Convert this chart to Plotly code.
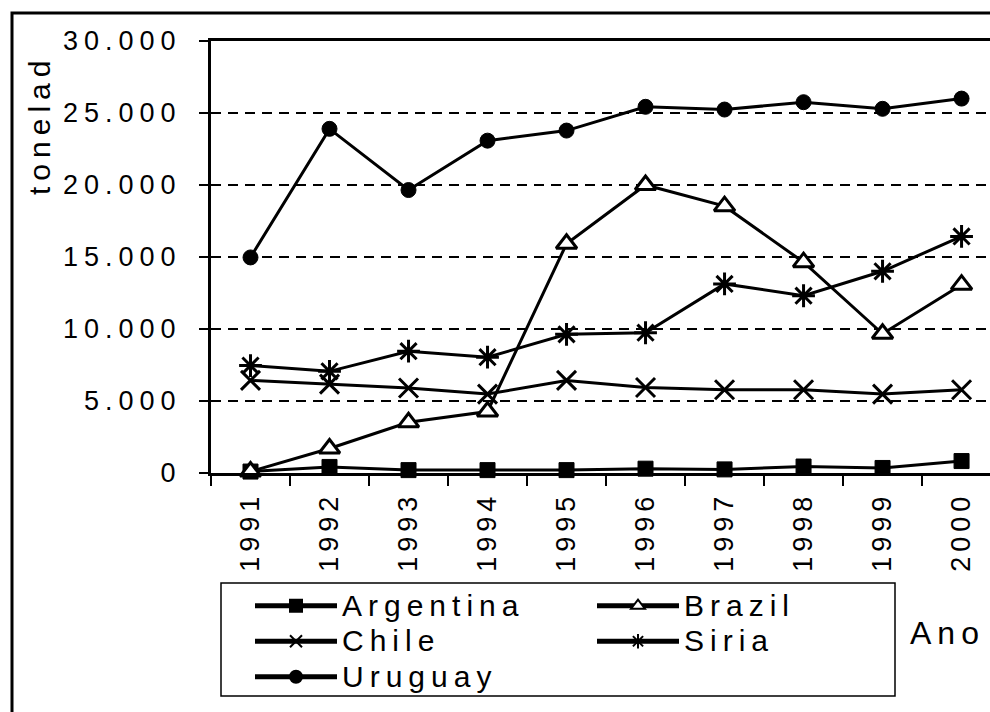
import plotly.graph_objects as go

years = ["1991", "1992", "1993", "1994", "1995", "1996", "1997", "1998", "1999", "2000"]
argentina = [100, 420, 200, 200, 200, 300, 250, 450, 350, 830]
brazil = [100, 1700, 3520, 4270, 15920, 20000, 18530, 14640, 9670, 13080]
chile = [6430, 6170, 5900, 5480, 6430, 5940, 5780, 5780, 5480, 5780]
siria = [7460, 7060, 8460, 8040, 9630, 9740, 13130, 12310, 14010, 16430]
uruguay = [14970, 23900, 19650, 23080, 23780, 25430, 25240, 25750, 25290, 26000]

y_tickvals = [0, 5000, 10000, 15000, 20000, 25000, 30000]
y_ticktext = ["0", "5.000", "10.000", "15.000", "20.000", "25.000", "30.000"]

FONT = "Liberation Sans, Arial, sans-serif"

series = [
    ("Argentina", argentina, dict(symbol="square", size=15, color="black",
                                  line=dict(color="black", width=1))),
    ("Brazil", brazil, dict(symbol="triangle-up", size=18, color="white",
                            line=dict(color="black", width=3))),
    ("Chile", chile, dict(symbol="x-thin-open", size=19, color="black",
                          line=dict(color="black", width=3))),
    ("Siria", siria, dict(symbol="asterisk-open", size=19, color="black",
                          line=dict(color="black", width=3))),
    ("Uruguay", uruguay, dict(symbol="circle", size=15, color="black",
                              line=dict(color="black", width=1))),
]

fig = go.Figure()
for name, vals, mk in series:
    fig.add_trace(go.Scatter(
        x=years, y=vals, name=name, mode="lines+markers",
        line=dict(color="black", width=3), marker=mk, cliponaxis=False,
    ))

W, H = 990, 712
L, R, T, B = 211, 0, 41, 239
pw, ph = W - L - R, H - T - B

def px_x(x):
    return (x - L) / pw

def px_y(y):
    return (H - B - y) / ph

fig.update_layout(
    width=W, height=H,
    margin=dict(l=L, r=R, t=T, b=B, pad=0),
    paper_bgcolor="white", plot_bgcolor="white",
    font=dict(family=FONT, size=27, color="black"),
    showlegend=True,
    legend=dict(
        orientation="h", x=px_x(250), y=px_y(583), xanchor="left", yanchor="top",
        borderwidth=0, bgcolor="rgba(0,0,0,0)",
        font=dict(family=FONT, size=25, color="black"),
        itemwidth=82, entrywidth=245, itemsizing="constant", traceorder="normal",
    ),
    xaxis=dict(
        type="category", categoryorder="array", categoryarray=years,
        range=[-0.5, 9.36], showline=True, linecolor="black", linewidth=3,
        mirror=True, ticks="outside", tickson="boundaries", ticklen=10,
        tickwidth=1.5, tickcolor="black", tickangle=-90, showgrid=False,
        ticklabelstandoff=5,
        tickfont=dict(family=FONT, size=27, color="black"),
    ),
    yaxis=dict(
        range=[0, 30000], tickvals=y_tickvals, ticktext=y_ticktext,
        showline=True, linecolor="black", linewidth=3, ticks="outside",
        ticklen=9, tickwidth=1.5, tickcolor="black", showgrid=True,
        gridcolor="black", gridwidth=1.5, griddash="10px,7px", zeroline=False,
        ticklabelstandoff=12,
        tickfont=dict(family=FONT, size=27, color="black"),
    ),
    shapes=[
        dict(type="rect", xref="paper", yref="paper",
             x0=px_x(12), x1=1.2, y0=-0.8, y1=px_y(13),
             line=dict(color="black", width=3), layer="below"),
        dict(type="rect", xref="paper", yref="paper",
             x0=px_x(221), x1=px_x(895), y0=px_y(696), y1=px_y(583),
             line=dict(color="black", width=1.5), fillcolor="white", layer="below"),
    ],
    annotations=[
        dict(text="tonelad", xref="paper", yref="paper", x=px_x(40), y=px_y(125),
             textangle=-90, showarrow=False, xanchor="center", yanchor="middle",
             font=dict(family=FONT, size=30, color="black")),
        dict(text="Ano", xref="paper", yref="paper", x=px_x(917), y=px_y(633),
             showarrow=False, xanchor="left", yanchor="middle",
             font=dict(family=FONT, size=32, color="black")),
    ],
)

post = """
document.body.style.margin = '0';
var gd = document.getElementById('{plot_id}');
gd.querySelectorAll('text').forEach(function(t){
    t.style.letterSpacing = '6px';
});
gd.querySelectorAll('g.xtick text').forEach(function(t){
    t.style.letterSpacing = '5px';
});
gd.querySelectorAll('text.legendtext').forEach(function(t){
    t.style.fontSize = '30px';
});
"""
fig.write_html("out.html", post_script=post,
               config={"displayModeBar": False, "staticPlot": True})
